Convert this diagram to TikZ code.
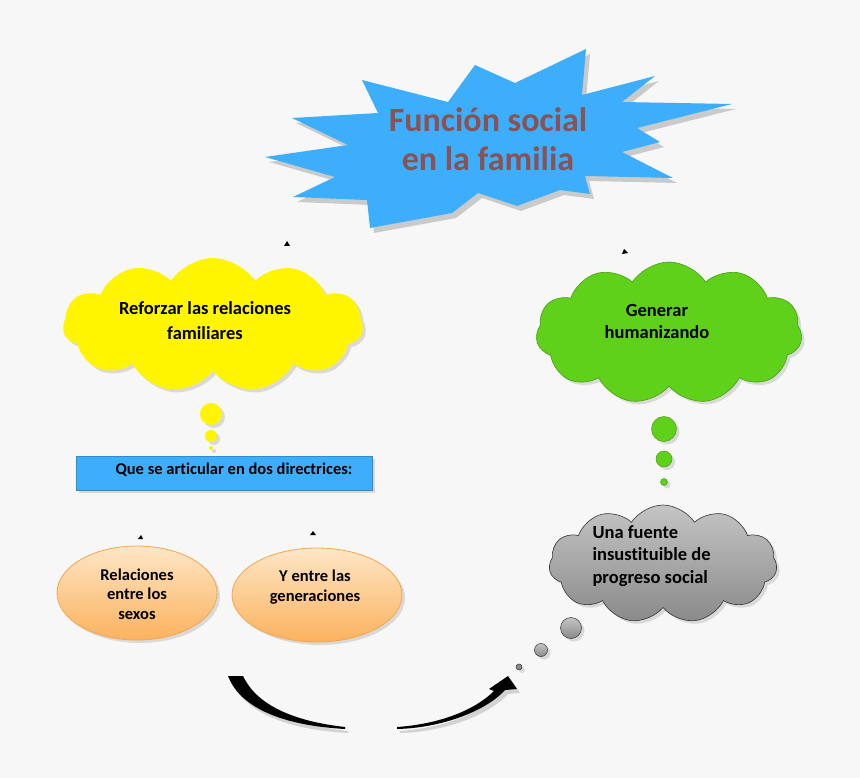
\documentclass[tikz,border=0pt]{standalone}
\usepackage{fontspec}
\setmainfont{Carlito}[Ligatures=NoCommon]
\usetikzlibrary{shapes.symbols,shapes.geometric,shadows}
\definecolor{bg}{HTML}{F7F7F7}
\definecolor{starblue}{HTML}{3DAEFC}
\definecolor{titlebrown}{HTML}{8A5252}
\definecolor{cloudyellow}{HTML}{FFF500}
\definecolor{cloudgreen}{HTML}{5FD11B}
\definecolor{greenedge}{HTML}{4A9E12}
\definecolor{peachtop}{HTML}{FEE6C6}
\definecolor{peachbot}{HTML}{FBB25E}
\definecolor{peachedge}{HTML}{F7A54A}
\definecolor{graytop}{HTML}{C4C4C4}
\definecolor{graybot}{HTML}{8A8A8A}
\tikzset{
  shad/.style={drop shadow={opacity=0.25,shadow xshift=3pt,shadow yshift=-3pt}},
  cloudbox/.style={cloud, cloud puffs=11, cloud puff arc=115, aspect=2.2, inner sep=0pt, shad},
  txt/.style={font=\bfseries, align=center, text=black},
  puff/.style={circle, inner sep=0pt, shad},
  ovalbox/.style={ellipse, draw=peachedge, line width=0.8pt, top color=peachtop, bottom color=peachbot, inner sep=0pt, shad},
  tick/.style={fill=black},
}
\begin{document}
\begin{tikzpicture}[x=1pt,y=-1pt]
\fill[bg] (0,0) rectangle (860,778);
\useasboundingbox (0,0) rectangle (860,778);

% starburst
\fill[black,opacity=0.18,shift={(4,5)}] (362,80) -- (378,113) -- (292,118) -- (348,145) -- (265,157) -- (335,177) -- (293,197) -- (367,200) -- (370,228) -- (452,213) -- (478,193) -- (517,206) -- (560,190) -- (590,194) -- (585,176) -- (673,178) -- (622,152) -- (660,142) -- (637,128) -- (732,104) -- (622,102) -- (655,76) -- (582,95) -- (586,49) -- (515,83) -- (475,65) -- (448,102) -- cycle;
\fill[starblue] (362,80) -- (378,113) -- (292,118) -- (348,145) -- (265,157) -- (335,177) -- (293,197) -- (367,200) -- (370,228) -- (452,213) -- (478,193) -- (517,206) -- (560,190) -- (590,194) -- (585,176) -- (673,178) -- (622,152) -- (660,142) -- (637,128) -- (732,104) -- (622,102) -- (655,76) -- (582,95) -- (586,49) -- (515,83) -- (475,65) -- (448,102) -- cycle;
\node[font=\bfseries\fontsize{34}{39}\selectfont, text=titlebrown, align=center] (title) at (488,139) {Función social\\ en la familia};

% tiny arrow marks
\fill[tick] (284,246) -- (287,241) -- (290,246) -- cycle;
\fill[tick] (622,254) -- (624,249) -- (628,253) -- cycle;
\fill[tick] (138,539) -- (141,535) -- (143,539) -- cycle;
\fill[tick] (310,535) -- (313,531) -- (316,535) -- cycle;

% yellow cloud
\node[cloudbox, fill=cloudyellow, minimum width=300pt, minimum height=134pt] (yc) at (213,325) {};
\node[txt, font=\bfseries\fontsize{18.5}{25}\selectfont] (yt) at (205,321) {Reforzar las relaciones\\ familiares};
\node[puff, fill=cloudyellow, minimum size=22pt] (yp1) at (211,414) {};
\node[puff, fill=cloudyellow, minimum size=12pt] (yp2) at (211,436) {};
\node[puff, fill=cloudyellow, minimum size=4pt] (yp3) at (211,448) {};

% blue rectangle
\node[rectangle, fill=starblue, draw=starblue!80!black, line width=0.4pt, minimum width=296pt, minimum height=34pt, shad] (rect) at (224,473) {};
\node[txt, font=\bfseries\fontsize{16.5}{18}\selectfont] (rt) at (234,470) {Que se articular en dos directrices:};

% green cloud
\node[cloudbox, fill=cloudgreen, draw=greenedge, line width=0.6pt, minimum width=266pt, minimum height=142pt] (gc) at (669,333) {};
\node[txt, font=\bfseries\fontsize{18.5}{22}\selectfont] (gt) at (657,322) {Generar\\ humanizando};
\node[puff, fill=cloudgreen, draw=greenedge, line width=0.5pt, minimum size=25pt] (gp1) at (664,429) {};
\node[puff, fill=cloudgreen, draw=greenedge, line width=0.5pt, minimum size=16pt] (gp2) at (664,459) {};
\node[puff, fill=cloudgreen, draw=greenedge, line width=0.5pt, minimum size=7pt] (gp3) at (664,482) {};

% gray cloud
\node[cloudbox, top color=graytop, bottom color=graybot, draw=black!80, line width=0.6pt, minimum width=228pt, minimum height=118pt] (kc) at (663,564) {};
\node[txt, align=left, anchor=west, font=\bfseries\fontsize{18.5}{22.5}\selectfont] (kt) at (589,556) {Una fuente\\ insustituible de\\ progreso social};
\node[puff, top color=graytop, bottom color=graybot, draw=black!80, line width=0.5pt, minimum size=21pt] (kp1) at (571,628) {};
\node[puff, top color=graytop, bottom color=graybot, draw=black!80, line width=0.5pt, minimum size=13pt] (kp2) at (541,650) {};
\node[puff, fill=graybot, draw=black!80, line width=0.5pt, minimum size=6pt] (kp3) at (519,667) {};

% orange ellipses
\node[ovalbox, minimum width=160pt, minimum height=94pt] (e1) at (137,593) {};
\node[txt, font=\bfseries\fontsize{16.5}{19.5}\selectfont] (e1t) at (137,594) {Relaciones\\ entre los\\ sexos};
\node[ovalbox, minimum width=170pt, minimum height=94pt] (e2) at (317,595) {};
\node[txt, font=\bfseries\fontsize{16.5}{19.5}\selectfont] (e2t) at (315,587) {Y entre las\\ generaciones};

% curved arrow
\fill[black,opacity=0.15,shift={(3,4)}] (228,676) .. controls (242,712) and (292,726) .. (345,729) -- (345,727) .. controls (300,722) and (258,708) .. (243,676) -- cycle;
\fill[black] (228,676) .. controls (242,712) and (292,726) .. (345,729) -- (345,727) .. controls (300,722) and (258,708) .. (243,676) -- cycle;
\fill[black,opacity=0.15,shift={(3,4)}] (397,727) .. controls (440,724) and (475,710) .. (494,691) -- (489,689) -- (508,676) -- (517,689) -- (505,690) .. controls (485,712) and (440,728) .. (397,729) -- cycle;
\fill[black] (397,727) .. controls (440,724) and (475,710) .. (494,691) -- (489,689) -- (508,676) -- (517,689) -- (505,690) .. controls (485,712) and (440,728) .. (397,729) -- cycle;
\end{tikzpicture}
\end{document}
